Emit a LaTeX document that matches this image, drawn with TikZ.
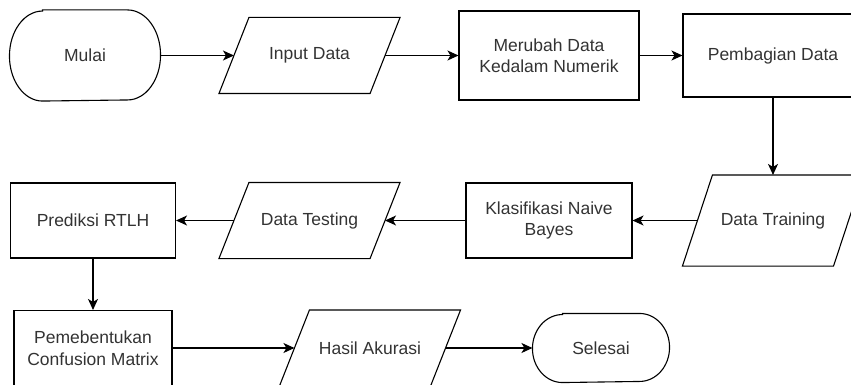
\documentclass[tikz,border=0pt]{standalone}
\usepackage{fontspec}
\setmainfont{Liberation Sans}
\usetikzlibrary{arrows.meta}
\definecolor{labelgray}{HTML}{333333}
\tikzset{
  base/.style={line width=1.1pt, text=labelgray, align=center, inner sep=0pt,
    font=\fontsize{17.5}{21.5}\selectfont},
  terminal/.style={base, rectangle, draw=none},
  iobox/.style={base, rectangle, draw=none},
  procbox/.style={base, rectangle, draw=black},
  outline/.style={draw=black, line width=1.1pt, line join=miter},
  arr/.style={outline, -{Stealth[length=11pt,width=10pt,inset=3pt]}}
}
% stadium outline with elliptical ends: node name, horizontal radius, vertical radius
\newcommand\stadiumline[3]{%
  \draw[outline] ([xshift=#2pt]#1.north west) -- ([xshift=-#2pt]#1.north east)
    arc[start angle=90, end angle=-90, x radius=#2pt, y radius=#3pt]
    -- ([xshift=#2pt]#1.south west)
    arc[start angle=270, end angle=90, x radius=#2pt, y radius=#3pt] -- cycle;}
% parallelogram outline around a text node: node name, half of the slant
\newcommand\ioline[2]{%
  \draw[outline] ([xshift=#2pt]#1.north west) -- ([xshift=#2pt]#1.north east)
    -- ([xshift=-#2pt]#1.south east) -- ([xshift=-#2pt]#1.south west) -- cycle;}
\begin{document}
\begin{tikzpicture}[x=1pt, y=-1pt]
\useasboundingbox (0,0) rectangle (851,385);
\clip (0,0) rectangle (851,385);

% first row
\node[terminal, minimum width=150pt, minimum height=90pt] (mulai) at (85,55.5) {Mulai};
\stadiumline{mulai}{33}{45}
\node[iobox, minimum width=150pt, minimum height=75pt] (input) at (309.5,55.5) {Input Data};
\ioline{input}{15}
\node[procbox, minimum width=180pt, minimum height=89pt] (merubah) at (549,55.5) {Merubah Data\\Kedalam Numerik};
\node[procbox, minimum width=180pt, minimum height=83pt] (pembagian) at (773,55.5) {Pembagian Data};

% second row
\node[iobox, minimum width=150pt, minimum height=90pt] (training) at (773,220.5) {Data Training};
\ioline{training}{15}
\node[procbox, minimum width=166pt, minimum height=75pt] (klasifikasi) at (549,220.5) {Klasifikasi Naive\\Bayes};
\node[iobox, minimum width=150pt, minimum height=75pt] (testing) at (309.5,220.5) {Data Testing};
\ioline{testing}{15}
\node[procbox, minimum width=165pt, minimum height=75pt] (prediksi) at (93,220.5) {Prediksi RTLH};

% third row
\node[procbox, minimum width=158pt, minimum height=75pt] (confusion) at (93,348) {Pemebentukan\\Confusion Matrix};
\node[iobox, minimum width=150pt, minimum height=75pt] (hasil) at (370,348) {Hasil Akurasi};
\ioline{hasil}{15}
\node[terminal, minimum width=136pt, minimum height=68pt] (selesai) at (601,348) {Selesai};
\stadiumline{selesai}{30}{34}

% flow
\draw[arr] (mulai) -- (input);
\draw[arr] (input) -- (merubah);
\draw[arr] (merubah) -- (pembagian);
\draw[arr] (pembagian) -- (training);
\draw[arr] (training) -- (klasifikasi);
\draw[arr] (klasifikasi) -- (testing);
\draw[arr] (testing) -- (prediksi);
\draw[arr] (prediksi) -- (confusion);
\draw[arr] (confusion) -- (hasil);
\draw[arr] (hasil) -- (selesai);
\end{tikzpicture}
\end{document}
